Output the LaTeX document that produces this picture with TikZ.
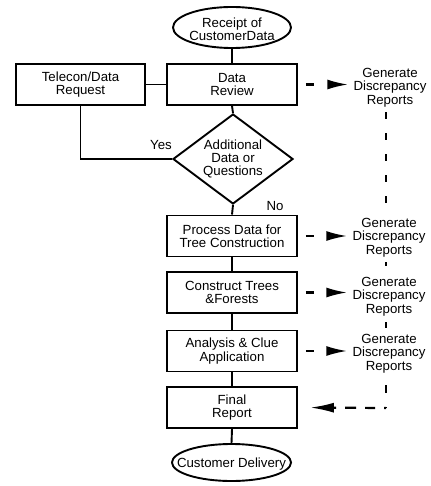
\documentclass[tikz,border=0pt]{standalone}
\usepackage{fontspec}
\setmainfont{Liberation Sans}
\usetikzlibrary{shapes.geometric,arrows.meta}
\begin{document}
\begin{tikzpicture}[x=1bp,y=-1bp,
  every node/.style={font=\fontsize{13.3}{13.5}\selectfont, align=center},
  proc/.style={draw, line width=1.9bp, minimum width=130bp, minimum height=41bp, inner sep=0pt},
  term/.style={draw, ellipse, line width=1.9bp, inner sep=0pt},
  dmd/.style={draw, diamond, line width=1.9bp, minimum width=120bp, minimum height=90bp, inner sep=0pt},
  txt/.style={inner sep=0pt},
  link/.style={line width=1.9bp},
  dline/.style={line width=2.2bp},
  tipr/.style={-{Latex[length=21bp,width=10bp]}},
  tipl/.style={-{Latex[length=24bp,width=10bp]}}
]
\useasboundingbox (0,0) rectangle (430,486);
\fill[white] (0,0) rectangle (430,486);

% main flow
\node[term, minimum width=118bp, minimum height=41bp] (rc) at (232,27.5) {};
\node[txt] (rct) at (232,29) {Receipt of\\CustomerData};
\node[proc] (dr) at (232,84.5) {Data\\Review};
\node[proc, minimum width=129bp] (tel) at (80.5,84.5) {Telecon/Data\\Request};
\node[dmd] (q) at (233,159) {};
\node[txt] (qt) at (233,159) {Additional\\Data or\\Questions};
\node[proc] (pd) at (232,236) {Process Data for\\Tree Construction};
\node[proc] (ct) at (232,292.5) {Construct Trees\\\&Forests};
\node[proc] (ac) at (232,351) {Analysis \& Clue\\Application};
\node[proc] (fr) at (232,407.5) {Final\\Report};
\node[term, minimum width=119bp, minimum height=37bp] (cd) at (231.5,462.5) {};
\node[txt] (cdt) at (231.5,464) {Customer Delivery};

% branch labels
\node[txt] (yes) at (161,145) {Yes};
\node[txt] (no) at (275,206) {No};

% discrepancy reports
\node[txt] (g1) at (390,87.5) {Generate\\Discrepancy\\Reports};
\node[txt] (g2) at (389,237.5) {Generate\\Discrepancy\\Reports};
\node[txt] (g3) at (389,296.5) {Generate\\Discrepancy\\Reports};
\node[txt] (g4) at (389,353.5) {Generate\\Discrepancy\\Reports};
\coordinate (vx) at (386,408);

% solid connectors
\draw[link] (rc.south) -- (dr.north);
\draw[link] (tel.east) -- (dr.west);
\draw[link] (dr.south) -- (q.north);
\draw[link] (tel.south) |- (q.west);
\draw[link] (q.south) -- (pd.north);
\draw[link] (pd.south) -- (ct.north);
\draw[link] (ct.south) -- (ac.north);
\draw[link] (ac.south) -- (fr.north);
\draw[link] (fr.south) -- (cd.north);

% dashed report arrows
\draw[dline, tipr, dash pattern=on 8bp off 20bp, shorten <=8bp, shorten >=5bp] (dr.east) -- (dr.east -| g1.west);
\draw[dline, tipr, dash pattern=on 8bp off 20bp, shorten <=8bp, shorten >=5bp] (pd.east) -- (pd.east -| g2.west);
\draw[dline, tipr, dash pattern=on 8bp off 20bp, shorten <=8bp, shorten >=5bp] (ct.east) -- (ct.east -| g3.west);
\draw[dline, tipr, dash pattern=on 8bp off 20bp, shorten <=8bp, shorten >=5bp] (ac.east) -- (ac.east -| g4.west);

% dashed return path
\draw[dline, dash pattern=on 7bp off 14bp, shorten <=5bp, shorten >=14bp] (g1.south -| vx) -- (g2.north -| vx);
\draw[dline, shorten <=5bp, shorten >=11bp] (g2.south -| vx) -- (g3.north -| vx);
\draw[dline, shorten <=6bp, shorten >=6bp] (g3.south -| vx) -- (g4.north -| vx);
\draw[dline, dash pattern=on 8bp off 14bp, shorten <=12bp] (g4.south -| vx) -- (vx);
\draw[dline, tipl, dash pattern=on 2bp off 9bp on 10bp off 9bp on 11bp off 9bp, shorten >=12bp] (vx) -- (fr.east);
\end{tikzpicture}
\end{document}
